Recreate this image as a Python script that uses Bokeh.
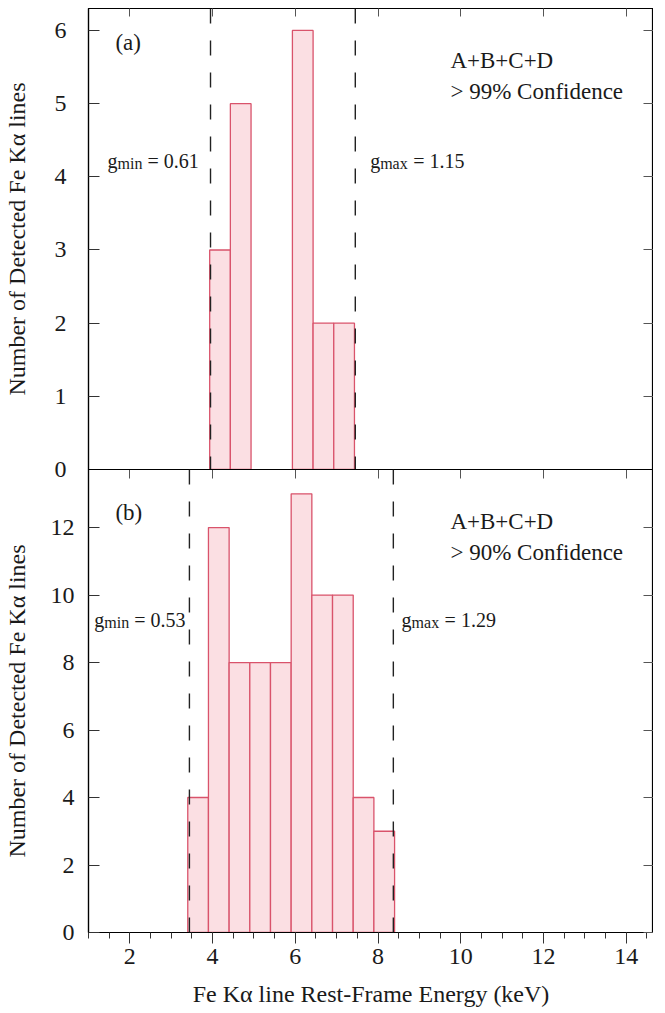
from bokeh.plotting import figure
from bokeh.layouts import column
from bokeh.models import Span, LinearAxis, Range1d, FixedTicker, SingleIntervalTicker, Label
from bokeh.embed import file_html
from bokeh.resources import INLINE

# ---------------- data ----------------
bin_width = 0.5
a_left = [3.93, 4.43, 5.93, 6.43, 6.93]
a_count = [3, 5, 6, 2, 2]
b_left = [3.4, 3.9, 4.4, 4.9, 5.4, 5.9, 6.4, 6.9, 7.4, 7.9]
b_count = [4, 12, 8, 8, 8, 13, 10, 10, 4, 3]

a_gpos = [3.95, 7.45]
a_gval = ["0.61", "1.15"]
b_gpos = [3.44, 8.37]
b_gval = ["0.53", "1.29"]

x_ticks = [2, 4, 6, 8, 10, 12, 14]
a_yticks = [0, 1, 2, 3, 4, 5, 6]
b_yticks = [0, 2, 4, 6, 8, 10, 12]

panel_tags = ["(a)", "(b)"]
sample_txt = "A+B+C+D"
conf_txt = ["> 99% Confidence", "> 90% Confidence"]
ylab = "Number of Detected Fe Kα lines"
xlab = "Fe Kα line Rest-Frame Energy (keV)"

FONT = "Liberation Serif"
TXT = "#1a1a1a"
FILL = "#fbdfe3"
EDGE = "#d9536b"

X0, X1 = 1.0, 14.66
FW = 565
OVER = 14


def style_yaxis(ax, ticks, lab_standoff, axlab_standoff):
    ax.ticker = FixedTicker(ticks=ticks)
    ax.major_tick_in = 11
    ax.major_tick_out = 0
    ax.minor_tick_line_color = None
    ax.major_label_text_font = FONT
    ax.major_label_text_font_size = "24px"
    ax.major_label_text_color = TXT
    ax.major_label_standoff = lab_standoff
    ax.axis_label = ylab
    ax.axis_label_text_font = FONT
    ax.axis_label_text_font_style = "normal"
    ax.axis_label_text_font_size = "24px"
    ax.axis_label_text_color = TXT
    ax.axis_label_standoff = axlab_standoff
    ax.axis_line_color = "black"
    ax.axis_line_width = 1.2
    ax.major_tick_line_color = "#333333"


def quiet_axis(ax, ticks, tick_in, tick_out):
    ax.ticker = FixedTicker(ticks=ticks)
    ax.major_tick_in = tick_in
    ax.major_tick_out = tick_out
    ax.minor_tick_line_color = None
    ax.major_label_text_font_size = "1px"
    ax.major_label_text_color = None
    ax.major_label_standoff = 0
    ax.axis_line_color = "black"
    ax.axis_line_width = 1.2
    ax.major_tick_line_color = "#555555"
    return ax


def add_g(p, x, y, sub, val):
    p.add_layout(Label(x=x, y=y, text="g", text_font=FONT, text_font_size="20px",
                       text_color=TXT, text_baseline="middle", text_align="left"))
    p.add_layout(Label(x=x, y=y, x_offset=10, y_offset=-3, text=sub, text_font=FONT,
                       text_font_size="16px", text_color=TXT, text_baseline="middle",
                       text_align="left"))
    off = 10 + (26 if sub == "min" else 29) + 4
    p.add_layout(Label(x=x, y=y, x_offset=off, text="= " + val, text_font=FONT,
                       text_font_size="20px", text_color=TXT, text_baseline="middle",
                       text_align="left"))


def panel(left, count, ymax, fh, yticks, gpos, gval, tag, conf, tag_y, txt_y, conf_y, g_y,
          gmin_x, gmax_x, bottom):
    p = figure(frame_width=FW, frame_height=fh, x_range=Range1d(X0, X1),
               y_range=Range1d(0, ymax), output_backend="svg", toolbar_location=None,
               min_border_left=82, min_border_right=0,
               min_border_top=0 if bottom else 8,
               min_border_bottom=0 if bottom else OVER)
    p.grid.visible = False
    p.outline_line_color = "black"
    p.outline_line_width = 1.2

    right = [l + bin_width for l in left]
    p.quad(left=left, right=right, bottom=0, top=count, fill_color=FILL,
           line_color=EDGE, line_width=1.3)

    for gx in gpos:
        p.add_layout(Span(location=gx, dimension="height", line_color="#222222",
                          line_width=1.4, line_dash="15 17"))

    p.add_layout(quiet_axis(LinearAxis(), yticks, 10, 0), "right")

    if bottom:
        p.background_fill_alpha = 0
        p.border_fill_alpha = 0
        style_yaxis(p.left[0], yticks, 14, 18)
        ax = p.below[0]
        ax.ticker = SingleIntervalTicker(interval=2, num_minor_ticks=4)
        ax.major_tick_in = 0
        ax.major_tick_out = 11
        ax.minor_tick_in = 0
        ax.minor_tick_out = 6
        ax.major_label_text_font = FONT
        ax.major_label_text_font_size = "24px"
        ax.major_label_text_color = TXT
        ax.major_label_standoff = 5
        ax.axis_label = xlab
        ax.axis_label_text_font = FONT
        ax.axis_label_text_font_style = "normal"
        ax.axis_label_text_font_size = "24px"
        ax.axis_label_text_color = TXT
        ax.axis_label_standoff = 14
        ax.axis_line_color = "black"
        ax.axis_line_width = 1.2
        ax.major_tick_line_color = "#333333"
        ax.minor_tick_line_color = "#333333"
    else:
        style_yaxis(p.left[0], yticks, 22, 22)
        p.add_layout(quiet_axis(LinearAxis(), x_ticks, 8, 0), "above")
        # bottom axis: its outward ticks show as the lower panel's top ticks
        quiet_axis(p.below[0], x_ticks, 0, 9)

    p.add_layout(Label(x=1.65, y=tag_y, text=tag, text_font=FONT, text_font_size="23px",
                       text_color=TXT, text_baseline="middle"))
    p.add_layout(Label(x=9.75, y=txt_y, text=sample_txt, text_font=FONT,
                       text_font_size="23px", text_color=TXT, text_baseline="middle"))
    p.add_layout(Label(x=9.75, y=conf_y, text=conf, text_font=FONT, text_font_size="23px",
                       text_color=TXT, text_baseline="middle"))
    add_g(p, gmin_x, g_y, "min", gval[0])
    add_g(p, gmax_x, g_y, "max", gval[1])
    return p


p1 = panel(a_left, a_count, 6.30, 461, a_yticks, a_gpos, a_gval, panel_tags[0], conf_txt[0],
           5.83, 5.59, 5.16, 4.22, 1.46, 7.81, False)
p2 = panel(b_left, b_count, 13.72, 463, b_yticks, b_gpos, b_gval, panel_tags[1], conf_txt[1],
           12.44, 12.18, 11.26, 9.27, 1.14, 8.57, True)
p2.margin = (-OVER, 0, 0, 0)

layout = column(p1, p2, spacing=0)
open("out.html", "w").write(file_html(layout, INLINE))
